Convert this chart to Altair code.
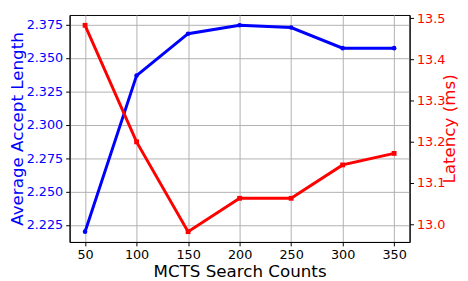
import altair as alt
import pandas as pd

counts = [50, 100, 150, 200, 250, 300, 350]
accept_len = [2.2200, 2.3367, 2.3680, 2.3743, 2.3726, 2.3572, 2.3572]
latency_ms = [13.483, 13.200, 12.982, 13.063, 13.063, 13.144, 13.172]

x_ticks = [50, 100, 150, 200, 250, 300, 350]
left_ticks = [2.225, 2.250, 2.275, 2.300, 2.325, 2.350, 2.375]
right_ticks = [13.0, 13.1, 13.2, 13.3, 13.4, 13.5]

df = pd.DataFrame({"counts": counts, "accept": accept_len, "latency": latency_ms})

FONT = "DejaVu Sans"
BLUE = "#0000ff"
RED = "#ff0000"
W, H = 346, 231

x_enc = alt.X(
    "counts:Q",
    scale=alt.Scale(domain=[35, 365], nice=False, zero=False),
    axis=alt.Axis(values=x_ticks, title="MCTS Search Counts", grid=True,
                  gridColor="#b0b0b0", gridWidth=1, labelColor="black",
                  labelFontSize=13, titleFontSize=17, labelPadding=3,
                  titlePadding=2, tickSize=4, tickColor="black",
                  domainColor="black", labelFont=FONT, titleFont=FONT,
                  titleFontWeight="normal", titleColor="black", labelFlush=False),
)

base = alt.Chart(df)

blue_line = base.mark_line(color=BLUE, strokeWidth=3,
                           point=alt.OverlayMarkDef(color=BLUE, filled=True, size=22, shape="circle")).encode(
    x=x_enc,
    y=alt.Y("accept:Q",
            scale=alt.Scale(domain=[2.2123, 2.3820], nice=False, zero=False),
            axis=alt.Axis(values=left_ticks, format=".3f", title="Average Accept Length",
                          orient="left", grid=True, gridColor="#b0b0b0", gridWidth=1,
                          labelColor=BLUE, titleColor=BLUE, labelFontSize=13,
                          titleFontSize=17, labelPadding=3,
                          titleAngle=270, titleAlign="center", titleBaseline="alphabetic",
                          titleX=-48, titleY=H / 2,
                          tickSize=4, tickColor="black", domainColor="black",
                          labelFont=FONT, titleFont=FONT, titleFontWeight="normal",
                          labelFlush=False)),
)

red_line = base.mark_line(color=RED, strokeWidth=3,
                          point=alt.OverlayMarkDef(color=RED, filled=True, size=24, shape="square")).encode(
    x=x_enc,
    y=alt.Y("latency:Q",
            scale=alt.Scale(domain=[12.957, 13.508], nice=False, zero=False),
            axis=alt.Axis(values=right_ticks, format=".1f", title="Latency (ms)",
                          orient="right", grid=False,
                          labelColor=RED, titleColor=RED, labelFontSize=13,
                          titleFontSize=17, labelPadding=3,
                          titleAngle=270, titleAlign="center", titleBaseline="alphabetic",
                          titleX=45.5, titleY=H / 2,
                          tickSize=4, tickColor="black", domainColor="black",
                          labelFont=FONT, titleFont=FONT, titleFontWeight="normal",
                          labelFlush=False)),
)

chart = alt.layer(blue_line, red_line).resolve_scale(y="independent").properties(
    width=W, height=H,
    autosize=alt.AutoSizeParams(type="none"),
    padding={"left": 62.7, "top": 4.7, "right": 51.3, "bottom": 37},
).configure_view(stroke="black", strokeWidth=1)

chart.save("out.html", embed_options={"renderer": "svg", "actions": False})
